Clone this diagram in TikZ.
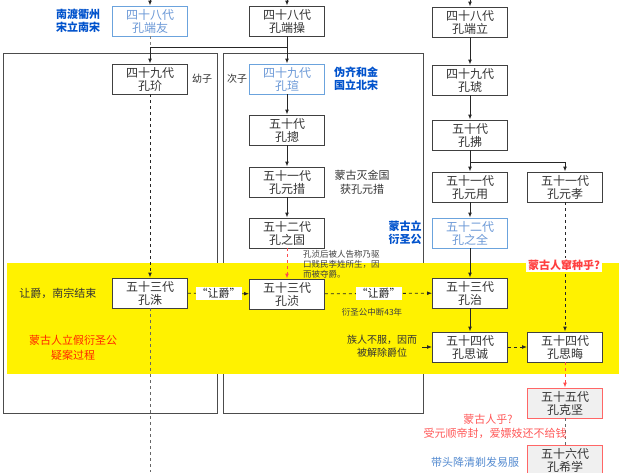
\documentclass[tikz,border=0pt]{standalone}
\usepackage{fontspec}
\setmainfont{Noto Sans CJK SC}
\usetikzlibrary{arrows.meta}
\begin{document}
\begin{tikzpicture}[x=1pt,y=-1pt,
  gen/.style={draw=black!75,thick,minimum width=75pt,minimum height=30pt,inner sep=0pt,align=center,font=\fontsize{12}{13}\selectfont,text=black!80,fill=white},
  bluebox/.style={gen,draw=cyan!60!blue!60,text=cyan!50!blue!60},
  redbox/.style={gen,draw=red!60,fill=black!6},
  arr/.style={-{Latex[length=5pt]},thick,black!85},
  darr/.style={arr,dashed},
  rdarr/.style={-{Latex[length=5pt]},thick,dashed,red!70},
  note/.style={font=\fontsize{10}{13}\selectfont,align=center,text=black!80},
  small/.style={font=\fontsize{8.5}{10}\selectfont,align=left,text=black!75},
  bl/.style={font=\bfseries\fontsize{11}{13}\selectfont,align=center,text=blue!60!cyan!80!black},
  rd/.style={font=\fontsize{11}{13}\selectfont,align=center,text=red!65}]
\useasboundingbox (0,0) rectangle (640,472);
\fill[white] (0,0) rectangle (640,472);
% frames and band
\draw[black!70,thick] (3,53) rectangle (217,413);
\draw[black!70,thick] (223,53) rectangle (423,413);
\fill[yellow] (7,263) rectangle (619,374);
% nodes
\node[bluebox] (dy) at (150,21) {四十八代\\孔端友};
\node[gen] (dc) at (287,21) {四十八代\\孔端操};
\node[gen] (dl) at (470,22) {四十八代\\孔端立};
\node[gen] (jie) at (150,79) {四十九代\\孔玠};
\node[bluebox] (xuan) at (287,79) {四十九代\\孔瑄};
\node[gen] (hu) at (470,80) {四十九代\\孔琥};
\node[gen] (zong) at (287,130) {五十代\\孔摠};
\node[gen] (fu) at (470,135) {五十代\\孔拂};
\node[gen] (ycuo) at (287,182) {五十一代\\孔元措};
\node[gen] (yyong) at (470,187) {五十一代\\孔元用};
\node[gen] (yxiao) at (565,187) {五十一代\\孔元孝};
\node[gen] (zgu) at (287,233) {五十二代\\孔之固};
\node[bluebox] (zquan) at (470,233) {五十二代\\孔之全};
\node[gen] (zhu) at (150,293) {五十三代\\孔洙};
\node[gen] (zhen) at (287,294) {五十三代\\孔浈};
\node[gen] (zhi) at (470,293) {五十三代\\孔治};
\node[gen] (scheng) at (470,347) {五十四代\\孔思诚};
\node[gen] (shui) at (565,347) {五十四代\\孔思晦};
\node[redbox] (kj) at (565,403) {五十五代\\孔克坚};
\node[redbox] (xx) at (565,460) {五十六代\\孔希学};
% top arrows
\coordinate (t1) at (150,0); \coordinate (t2) at (287,0); \coordinate (t3) at (470,0);
\draw[arr] (t1) -- (dy); \draw[arr] (t2) -- (dc); \draw[arr] (t3) -- (dl);
% branch
\coordinate (b1) at (150,47); \coordinate (b2) at (287,47);
\draw[thick,black!85] (dc.south) -- (b2) -- (b1);
\draw[arr] (b1) -- (jie); \draw[arr] (b2) -- (xuan);
\draw[thick,dashed,black!50] (dy.south) -- (b1);
\draw[darr] (jie) -- (zhu);
\coordinate (zb) at (150,472);
\draw[thick,dashed,black!60] (zhu.south) -- (zb);
\draw[arr] (xuan) -- (zong); \draw[arr] (zong) -- (ycuo); \draw[arr] (ycuo) -- (zgu);
\draw[rdarr] (zgu) -- (zhen);
\draw[darr] (zhu) -- node[fill=white,inner sep=1pt,font=\fontsize{11}{12}\selectfont]{“让爵”} (zhen);
\draw[darr] (zhen) -- node[fill=white,inner sep=1pt,font=\fontsize{11}{12}\selectfont]{“让爵”} (zhi);
\draw[arr] (dl) -- (hu); \draw[arr] (hu) -- (fu); \draw[arr] (fu) -- (yyong);
\coordinate (fb) at (470,162); \coordinate (fb2) at (565,162);
\draw[thick,black!85] (fb) -- (fb2); \draw[arr] (fb2) -- (yxiao);
\draw[arr] (yyong) -- (zquan); \draw[arr] (zquan) -- (zhi); \draw[arr] (zhi) -- (scheng);
\draw[darr] (yxiao) -- (shui);
\draw[darr] (scheng) -- (shui);
\coordinate (ca) at (422,347);
\draw[arr] (ca) -- (scheng);
\draw[rdarr] (shui) -- (kj);
\draw[thick,dashed,black!60] (kj) -- (xx);
% texts
\node[bl] (t_a) at (78,21) {南渡衢州\\宋立南宋};
\node[note] (t_b) at (202,79) {幼子};
\node[note] (t_c) at (237,79) {次子};
\node[bl] (t_d) at (356,79) {伪齐和金\\国立北宋};
\node[note,font=\fontsize{11}{14}\selectfont] (t_e) at (362,182) {蒙古灭金国\\获孔元措};
\node[bl] (t_f) at (405,233) {蒙古立\\衍圣公};
\node[small,anchor=north west,inner sep=1pt] (t_g) at (302,249) {孔浈后被人告称乃驱\\口贱民李姓所生，因\\而被夺爵。};
\node[note,font=\fontsize{11}{13}\selectfont] (t_h) at (58,293) {让爵，南宗结束};
\node[small] (t_i) at (372,312) {衍圣公中断43年};
\node[note,text=red!70!orange,font=\fontsize{11}{15}\selectfont] (t_j) at (73,348) {蒙古人立假衍圣公\\疑案过程};
\node[note] (t_k) at (382,346) {族人不服，因而\\被解除爵位};
\node[fill=white,inner sep=2pt,font=\bfseries\fontsize{11}{12}\selectfont,text=red!75] (t_l) at (564,265) {蒙古人窜种乎?};
\node[rd] (t_m) at (488,419) {蒙古人乎?};
\node[rd] (t_n) at (495,433) {受元顺帝封，爱嫖妓还不给钱};
\node[note,text=cyan!50!blue!70,font=\fontsize{11}{13}\selectfont] (t_o) at (475,462) {带头降清剃发易服};
\end{tikzpicture}
\end{document}
